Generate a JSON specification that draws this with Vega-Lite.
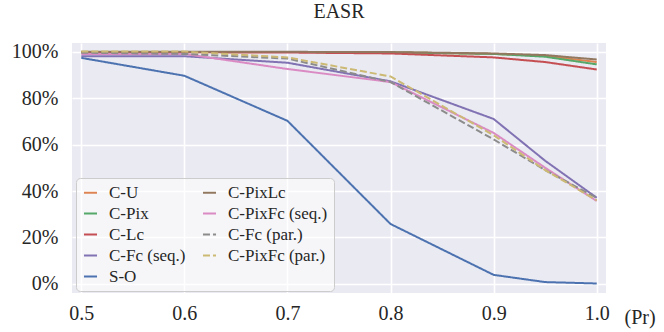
{
  "$schema": "https://vega.github.io/schema/vega-lite/v6.json",
  "width": 534,
  "height": 250,
  "autosize": {"type": "none"},
  "padding": {"left": 72, "top": 43, "right": 58, "bottom": 39},
  "background": "white",
  "title": {"text": "EASR", "font": "Liberation Serif, Times New Roman, serif", "fontSize": 20, "fontWeight": "normal", "color": "#262626", "offset": 20},
  "config": {
    "view": {"fill": "#EAEAF2", "stroke": null},
    "axis": {"labelFont": "Liberation Serif, Times New Roman, serif", "labelFontSize": 20, "labelColor": "#262626", "titleFont": "Liberation Serif, Times New Roman, serif", "titleFontSize": 20, "titleColor": "#262626", "titleFontWeight": "normal", "domain": false, "ticks": false, "gridColor": "white", "gridWidth": 1.6, "gridOpacity": 1}
  },
  "data": {"values": [
    {"pr": 0.5, "v": 0.998, "s": "C-U"}, {"pr": 0.6, "v": 0.998, "s": "C-U"}, {"pr": 0.7, "v": 0.998, "s": "C-U"}, {"pr": 0.8, "v": 0.997, "s": "C-U"}, {"pr": 0.9, "v": 0.99, "s": "C-U"}, {"pr": 0.95, "v": 0.982, "s": "C-U"}, {"pr": 1.0, "v": 0.955, "s": "C-U"},
    {"pr": 0.5, "v": 0.998, "s": "C-Pix"}, {"pr": 0.6, "v": 0.998, "s": "C-Pix"}, {"pr": 0.7, "v": 0.998, "s": "C-Pix"}, {"pr": 0.8, "v": 0.997, "s": "C-Pix"}, {"pr": 0.9, "v": 0.99, "s": "C-Pix"}, {"pr": 0.95, "v": 0.978, "s": "C-Pix"}, {"pr": 1.0, "v": 0.945, "s": "C-Pix"},
    {"pr": 0.5, "v": 0.997, "s": "C-Lc"}, {"pr": 0.6, "v": 0.997, "s": "C-Lc"}, {"pr": 0.7, "v": 0.996, "s": "C-Lc"}, {"pr": 0.8, "v": 0.992, "s": "C-Lc"}, {"pr": 0.9, "v": 0.975, "s": "C-Lc"}, {"pr": 0.95, "v": 0.955, "s": "C-Lc"}, {"pr": 1.0, "v": 0.923, "s": "C-Lc"},
    {"pr": 0.5, "v": 0.98, "s": "C-Fc (seq.)"}, {"pr": 0.6, "v": 0.98, "s": "C-Fc (seq.)"}, {"pr": 0.7, "v": 0.952, "s": "C-Fc (seq.)"}, {"pr": 0.8, "v": 0.872, "s": "C-Fc (seq.)"}, {"pr": 0.9, "v": 0.71, "s": "C-Fc (seq.)"}, {"pr": 0.95, "v": 0.53, "s": "C-Fc (seq.)"}, {"pr": 1.0, "v": 0.371, "s": "C-Fc (seq.)"},
    {"pr": 0.5, "v": 0.973, "s": "S-O"}, {"pr": 0.6, "v": 0.896, "s": "S-O"}, {"pr": 0.7, "v": 0.702, "s": "S-O"}, {"pr": 0.8, "v": 0.258, "s": "S-O"}, {"pr": 0.9, "v": 0.039, "s": "S-O"}, {"pr": 0.95, "v": 0.008, "s": "S-O"}, {"pr": 1.0, "v": 0.002, "s": "S-O"},
    {"pr": 0.5, "v": 0.999, "s": "C-PixLc"}, {"pr": 0.6, "v": 0.999, "s": "C-PixLc"}, {"pr": 0.7, "v": 0.999, "s": "C-PixLc"}, {"pr": 0.8, "v": 0.998, "s": "C-PixLc"}, {"pr": 0.9, "v": 0.992, "s": "C-PixLc"}, {"pr": 0.95, "v": 0.985, "s": "C-PixLc"}, {"pr": 1.0, "v": 0.966, "s": "C-PixLc"},
    {"pr": 0.5, "v": 0.99, "s": "C-PixFc (seq.)"}, {"pr": 0.6, "v": 0.99, "s": "C-PixFc (seq.)"}, {"pr": 0.7, "v": 0.925, "s": "C-PixFc (seq.)"}, {"pr": 0.8, "v": 0.869, "s": "C-PixFc (seq.)"}, {"pr": 0.9, "v": 0.65, "s": "C-PixFc (seq.)"}, {"pr": 0.95, "v": 0.5, "s": "C-PixFc (seq.)"}, {"pr": 1.0, "v": 0.357, "s": "C-PixFc (seq.)"},
    {"pr": 0.5, "v": 0.995, "s": "C-Fc (par.)"}, {"pr": 0.6, "v": 0.99, "s": "C-Fc (par.)"}, {"pr": 0.7, "v": 0.97, "s": "C-Fc (par.)"}, {"pr": 0.8, "v": 0.869, "s": "C-Fc (par.)"}, {"pr": 0.9, "v": 0.622, "s": "C-Fc (par.)"}, {"pr": 0.95, "v": 0.49, "s": "C-Fc (par.)"}, {"pr": 1.0, "v": 0.37, "s": "C-Fc (par.)"},
    {"pr": 0.5, "v": 1.0, "s": "C-PixFc (par.)"}, {"pr": 0.6, "v": 1.0, "s": "C-PixFc (par.)"}, {"pr": 0.7, "v": 0.975, "s": "C-PixFc (par.)"}, {"pr": 0.8, "v": 0.893, "s": "C-PixFc (par.)"}, {"pr": 0.9, "v": 0.64, "s": "C-PixFc (par.)"}, {"pr": 0.95, "v": 0.49, "s": "C-PixFc (par.)"}, {"pr": 1.0, "v": 0.36, "s": "C-PixFc (par.)"}
  ]},
  "mark": {"type": "line", "strokeWidth": 2},
  "encoding": {
    "x": {"field": "pr", "type": "quantitative", "scale": {"domain": [0.491, 1.009], "nice": false, "zero": false},
      "axis": {"values": [0.5, 0.6, 0.7, 0.8, 0.9, 1.0], "format": ".1f", "labelPadding": 10, "title": "(Pr)", "titleX": 552, "titleY": 30, "titleAlign": "left", "titleBaseline": "alphabetic", "titleAnchor": null}},
    "y": {"field": "v", "type": "quantitative", "scale": {"domain": [-0.039, 1.037], "nice": false, "zero": false},
      "axis": {"values": [0, 0.2, 0.4, 0.6, 0.8, 1.0], "format": ".0%", "labelPadding": 14, "title": null}},
    "color": {"field": "s", "type": "nominal",
      "scale": {"domain": ["C-U", "C-Pix", "C-Lc", "C-Fc (seq.)", "S-O", "C-PixLc", "C-PixFc (seq.)", "C-Fc (par.)", "C-PixFc (par.)"],
        "range": ["#DD8452", "#55A868", "#C44E52", "#8172B3", "#4C72B0", "#937860", "#DA8BC3", "#8C8C8C", "#CCB974"]},
      "legend": {"title": null, "orient": "none", "legendX": 4, "legendY": 135, "columns": 2, "columnPadding": 12, "rowPadding": 3,
        "labelFont": "Liberation Serif, Times New Roman, serif", "labelFontSize": 17, "labelColor": "#262626", "symbolType": "stroke", "symbolSize": 170, "symbolStrokeWidth": 2, "labelOffset": 10,
        "fillColor": "rgba(255,255,255,0.55)", "strokeColor": "#CCCCCC", "padding": 6, "cornerRadius": 4}},
    "strokeDash": {"field": "s", "type": "nominal",
      "scale": {"domain": ["C-U", "C-Pix", "C-Lc", "C-Fc (seq.)", "S-O", "C-PixLc", "C-PixFc (seq.)", "C-Fc (par.)", "C-PixFc (par.)"],
        "range": [[1, 0], [1, 0], [1, 0], [1, 0], [1, 0], [1, 0], [1, 0], [7, 3], [7, 3]]},
      "legend": {"title": null, "orient": "none", "legendX": 4, "legendY": 135, "columns": 2, "columnPadding": 12, "rowPadding": 3,
        "labelFont": "Liberation Serif, Times New Roman, serif", "labelFontSize": 17, "labelColor": "#262626", "symbolType": "stroke", "symbolSize": 170, "symbolStrokeWidth": 2, "labelOffset": 10,
        "fillColor": "rgba(255,255,255,0.55)", "strokeColor": "#CCCCCC", "padding": 6, "cornerRadius": 4}}
  }
}
